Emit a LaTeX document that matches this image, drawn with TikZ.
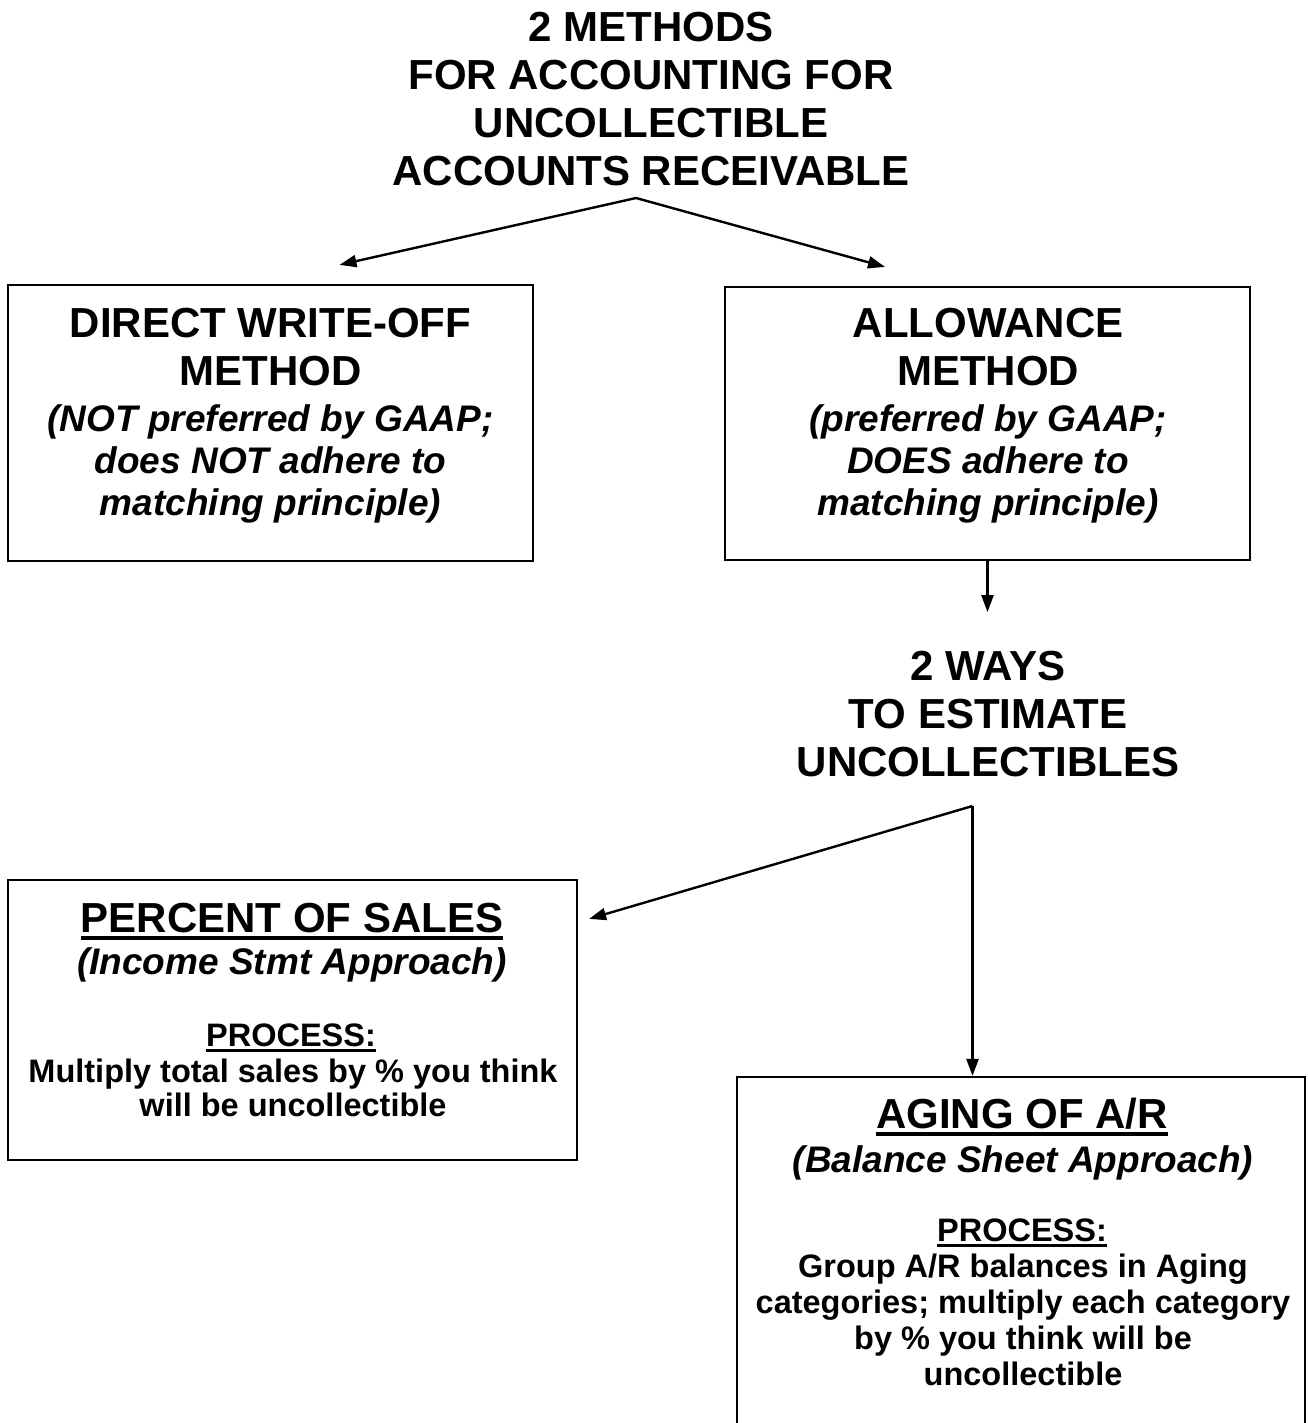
\documentclass[tikz,border=0pt]{standalone}
\usepackage{fontspec}
\setmainfont{Liberation Sans}
\usetikzlibrary{arrows.meta,calc}
\newcommand\ulHd[1]{\setbox0\hbox{#1}\rlap{\rule[-8pt]{\wd0}{4pt}}\box0}
\newcommand\ulPr[1]{\setbox0\hbox{#1}\rlap{\rule[-5.5pt]{\wd0}{3pt}}\box0}
\tikzset{
  boxx/.style={draw, line width=2.2pt, inner sep=0pt},
  hd/.style={font=\fontsize{42}{48}\selectfont\bfseries, align=center, inner sep=0pt, anchor=base},
  sub/.style={font=\fontsize{37}{42}\selectfont\bfseries\itshape, align=center, inner sep=0pt, anchor=base},
  bodA/.style={font=\fontsize{32.5}{34}\selectfont\bfseries, align=center, inner sep=0pt, anchor=base},
  bodB/.style={font=\fontsize{32.5}{36}\selectfont\bfseries, align=center, inner sep=0pt, anchor=base},
  arr/.style={line width=2.4pt, -{Triangle[length=17pt,width=12pt]}},
}
\begin{document}
\begin{tikzpicture}[x=1pt,y=-1pt]
\useasboundingbox (0,0) rectangle (1307,1423);
\fill[white] (0,0) rectangle (1307,1423);

% title (base anchor = last line baseline)
\node[hd] (title) at (651,186) {2 METHODS\\FOR ACCOUNTING FOR\\UNCOLLECTIBLE\\ACCOUNTS RECEIVABLE};
\coordinate (ap1) at (636,198);

% box 1
\node[boxx, minimum width=525pt, minimum height=276pt] (b1) at (270.5,423) {};
\node[hd] (b1h) at (270.5,385) {DIRECT WRITE-OFF\\METHOD};
\node[sub] (b1s) at (270.5,515) {(NOT preferred by GAAP;\\does NOT adhere to\\matching principle)};

% box 2
\node[boxx, minimum width=525pt, minimum height=273pt] (b2) at (987.5,423.5) {};
\node[hd] (b2h) at (988,385) {ALLOWANCE\\METHOD};
\node[sub] (b2s) at (988,515) {(preferred by GAAP;\\DOES adhere to\\matching principle)};

\draw[arr] (ap1) -- ($(b1.north)+(69,-19)$);
\draw[arr] (ap1) -- ($(b2.north)+(-102.5,-19)$);
\draw[arr] (b2.south) -- ++(0,51);

% ways
\node[hd] (ways) at (988,776) {2 WAYS\\TO ESTIMATE\\UNCOLLECTIBLES};
\coordinate (ap2) at (972.5,806);

% percent box
\node[boxx, minimum width=569pt, minimum height=280pt] (pc) at (292.5,1020) {};
\node[hd] (pch) at (292,932) {\ulHd{PERCENT OF SALES}};
\node[sub] (pcs) at (292,974) {(Income Stmt Approach)};
\node[bodA] (pcp) at (291,1046) {\ulPr{PROCESS:}};
\node[bodA] (pcb) at (293,1116) {Multiply total sales by \% you think\\will be uncollectible};

% aging box
\node[boxx, minimum width=568pt, minimum height=403pt] (ag) at (1021,1278.5) {};
\node[hd] (agh) at (1022,1128) {\ulHd{AGING OF A/R}};
\node[sub] (ags) at (1023,1172) {(Balance Sheet Approach)};
\node[bodB] (agp) at (1022,1241) {\ulPr{PROCESS:}};
\node[bodB] (agb) at (1023,1385) {Group A/R balances in Aging\\categories; multiply each category\\by \% you think will be\\uncollectible};

\draw[arr] (ap2) -- ($(pc.north east)+(11,40)$);
\draw[arr] (ap2) -- (ap2 |- ag.north);
\end{tikzpicture}
\end{document}
